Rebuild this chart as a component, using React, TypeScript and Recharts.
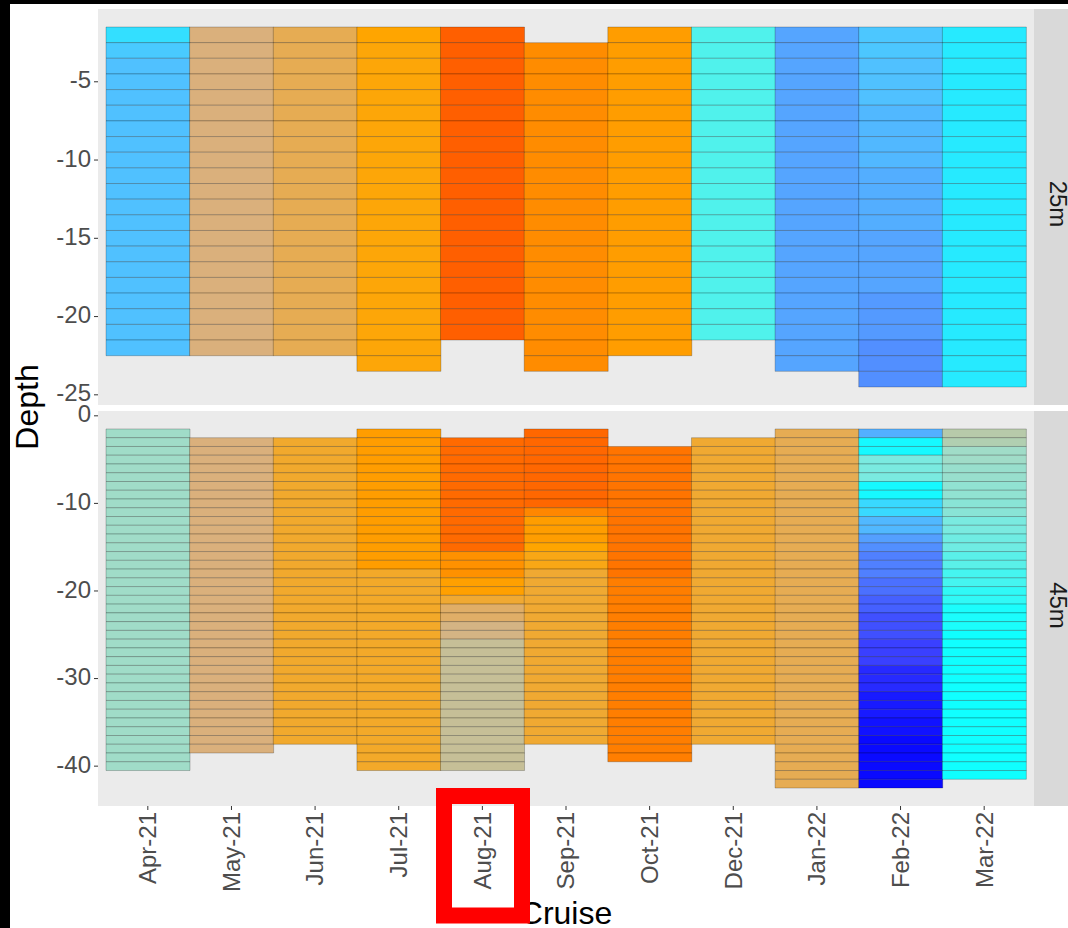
import React from "react";
import { BarChart, Bar, XAxis, YAxis, CartesianGrid, Cell } from "recharts";

const FONT = "'Liberation Sans', Arial, sans-serif";

const cruises = [
  "Apr-21", "May-21", "Jun-21", "Jul-21", "Aug-21", "Sep-21",
  "Oct-21", "Dec-21", "Jan-22", "Feb-22", "Mar-22",
];

// colour scale for the water temperature (°C)
const paletteTemps = [10, 11, 12, 13, 14, 15, 16, 17, 19, 22, 23, 24, 25];
const paletteColours = [
  "#0a0aff", "#3a40ff", "#5080ff", "#55a5ff", "#4fc4ff", "#10ffff", "#7aeae0",
  "#a0dcc8", "#dab07c", "#ffa500", "#ff8c00", "#ff7400", "#ff5f00",
];

// station 25m: first sampled depth (m) and runs of [number of 1 m cells, temperature]
const firstDepth25 = [2, 2, 2, 2, 2, 3, 2, 2, 2, 2, 2];
const temps25: [number, number][][] = [
  [[1, 14.45], [1, 14.1], [19, 13.9]],
  [[21, 19]],
  [[21, 20]],
  [[1, 22], [21, 21.8]],
  [[20, 25]],
  [[21, 23]],
  [[21, 22.3]],
  [[20, 15.6]],
  [[22, 13]],
  [[2, 14.05], [3, 13.9], [4, 13.6], [4, 13.3], [4, 13], [3, 12.7], [3, 12.4]],
  [[23, 14.65]],
];

// station 45m
const firstDepth45 = [2, 3, 3, 2, 3, 2, 4, 3, 2, 2, 2];
const temps45: [number, number][][] = [
  [[39, 17]],
  [[36, 19]],
  [[35, 20.9]],
  [[16, 22.3], [23, 21]],
  [[13, 24.5], [3, 22.8], [2, 22.2], [1, 20.8], [2, 19.5], [2, 18.8], [15, 18.3]],
  [[9, 24.6], [1, 23.2], [3, 22.3], [1, 22], [2, 21.5], [20, 20.8]],
  [[15, 24], [21, 23.6]],
  [[35, 20.8]],
  [[41, 20]],
  [[1, 13.35], [2, 14.9], [3, 16], [2, 14.9], [2, 14.35], [2, 13.6], [1, 12.85], [1, 12.4],
   [3, 12], [2, 11.75], [2, 11.5], [3, 11.25], [3, 11], [3, 10.6], [3, 10.3], [2, 10.15], [6, 10]],
  [[1, 17.8], [1, 17.6], [2, 17], [2, 16.8], [2, 16.6], [2, 16.4], [2, 16], [2, 15.9],
   [2, 15.7], [2, 15.5], [2, 15.3], [3, 15.1], [17, 15]],
];

const ticks25 = [-25, -20, -15, -10, -5];
const ticks45 = [-40, -30, -20, -10, 0];

function hexToRgb(h: string) {
  const n = parseInt(h.slice(1), 16);
  return [(n >> 16) & 255, (n >> 8) & 255, n & 255];
}

function tempColour(t: number) {
  let i = 0;
  while (i < paletteTemps.length - 2 && t > paletteTemps[i + 1]) i++;
  const f = Math.max(0, Math.min(1, (t - paletteTemps[i]) / (paletteTemps[i + 1] - paletteTemps[i])));
  const a = hexToRgb(paletteColours[i]);
  const b = hexToRgb(paletteColours[i + 1]);
  const c = a.map((v, k) => Math.round(v + (b[k] - v) * f));
  return `rgb(${c[0]},${c[1]},${c[2]})`;
}

function buildRows(first: number[], runs: [number, number][][]) {
  let maxDepth = 0;
  const rows = cruises.map((cruise, i) => {
    const row: any = { cruise, offset: -(first[i] - 0.5), temps: {} };
    let d = first[i];
    runs[i].forEach(([n, t]) => {
      for (let k = 0; k < n; k++) {
        row[`d${d}`] = -1;
        row.temps[d] = t;
        d++;
      }
    });
    maxDepth = Math.max(maxDepth, d - 1);
    return row;
  });
  const minDepth = Math.min(...first);
  const depths: number[] = [];
  for (let d = minDepth; d <= maxDepth; d++) depths.push(d);
  rows.forEach((r) => depths.forEach((d) => { if (r[`d${d}`] == null) r[`d${d}`] = 0; }));
  return { rows, depths };
}

function DepthTick({ x, y, payload }: any) {
  return (
    <text x={x} y={y - 2} textAnchor="end" dy="0.355em" fontSize={24} fill="#4D4D4D" fontFamily={FONT}>
      {payload.value}
    </text>
  );
}

function CruiseTick({ x, y, payload }: any) {
  return (
    <text
      x={x}
      y={y}
      transform={`rotate(-90 ${x} ${y})`}
      textAnchor="end"
      dy="0.35em"
      fontSize={24}
      fill="#4D4D4D"
      fontFamily={FONT}
    >
      {payload.value}
    </text>
  );
}

function Panel({ first, runs, domain, ticks, showX, height, margin }: any) {
  const { rows, depths } = buildRows(first, runs);
  return (
    <BarChart
      width={1068}
      height={height}
      data={rows}
      margin={margin}
      barCategoryGap={0}
      barGap={0}
    >
      <CartesianGrid fill="#EBEBEB" stroke="none" horizontal={false} vertical={false} />
      <XAxis
        dataKey="cruise"
        hide={!showX}
        height={showX ? 122 : 0}
        padding={{ left: 8, right: 8 }}
        axisLine={false}
        tickLine={{ stroke: "#333333" }}
        tickSize={4}
        tickMargin={2}
        interval={0}
        tick={<CruiseTick />}
      />
      <YAxis
        type="number"
        domain={domain}
        ticks={ticks}
        allowDataOverflow
        width={88}
        axisLine={false}
        tickLine={{ stroke: "#333333" }}
        tickSize={4}
        tickMargin={3}
        tick={<DepthTick />}
      />
      <Bar dataKey="offset" stackId="s" fill="none" stroke="none" isAnimationActive={false} />
      {depths.map((d) => (
        <Bar
          key={d}
          dataKey={`d${d}`}
          stackId="s"
          stroke="rgba(0,0,0,0.22)"
          strokeWidth={1}
          isAnimationActive={false}
        >
          {rows.map((r: any, i: number) => (
            <Cell key={i} fill={r.temps[d] != null ? tempColour(r.temps[d]) : "none"} />
          ))}
        </Bar>
      ))}
    </BarChart>
  );
}

function Strip({ top, height, label }: { top: number; height: number; label: string }) {
  return (
    <div style={{ position: "absolute", left: 1034, top, width: 40, height, background: "#D9D9D9" }}>
      <svg width={40} height={height} style={{ position: "absolute", left: 0, top: 0 }}>
        <text
          x={24}
          y={height / 2 - 3}
          transform={`rotate(90 24 ${height / 2 - 3})`}
          textAnchor="middle"
          dominantBaseline="central"
          fontSize={24}
          fill="#1A1A1A"
          fontFamily={FONT}
        >
          {label}
        </text>
      </svg>
    </div>
  );
}

export default function App() {
  return (
    <div style={{ position: "absolute", left: 0, top: 0, width: 1068, height: 928, background: "#000", overflow: "hidden" }}>
      <div style={{ position: "absolute", left: 10, top: 4, width: 1058, height: 924, background: "#fff" }} />
      <div style={{ position: "absolute", left: 0, top: 0 }}>
        <Panel
          first={firstDepth25}
          runs={temps25}
          domain={[-25.65, -0.35]}
          ticks={ticks25}
          showX={false}
          height={410}
          margin={{ top: 9, right: 34, bottom: 5, left: 10 }}
        />
      </div>
      <div style={{ position: "absolute", left: 0, top: 395 }}>
        <Panel
          first={firstDepth45}
          runs={temps45}
          domain={[-44.55, 0.55]}
          ticks={ticks45}
          showX={true}
          height={533}
          margin={{ top: 16, right: 34, bottom: 0, left: 10 }}
        />
      </div>
      <Strip top={9} height={396} label="25m" />
      <Strip top={411} height={395} label="45m" />
      <svg width={1068} height={928} style={{ position: "absolute", left: 0, top: 0, pointerEvents: "none" }}>
        <text
          x={27}
          y={407}
          transform="rotate(-90 27 407)"
          textAnchor="middle"
          dominantBaseline="central"
          fontSize={32}
          fill="#000"
          fontFamily={FONT}
        >
          Depth
        </text>
        <text x={566} y={924} textAnchor="middle" fontSize={32} fill="#000" fontFamily={FONT}>
          Cruise
        </text>
        <rect x={444} y={796} width={78} height={119.5} fill="none" stroke="#FF0000" strokeWidth={16} />
      </svg>
    </div>
  );
}
